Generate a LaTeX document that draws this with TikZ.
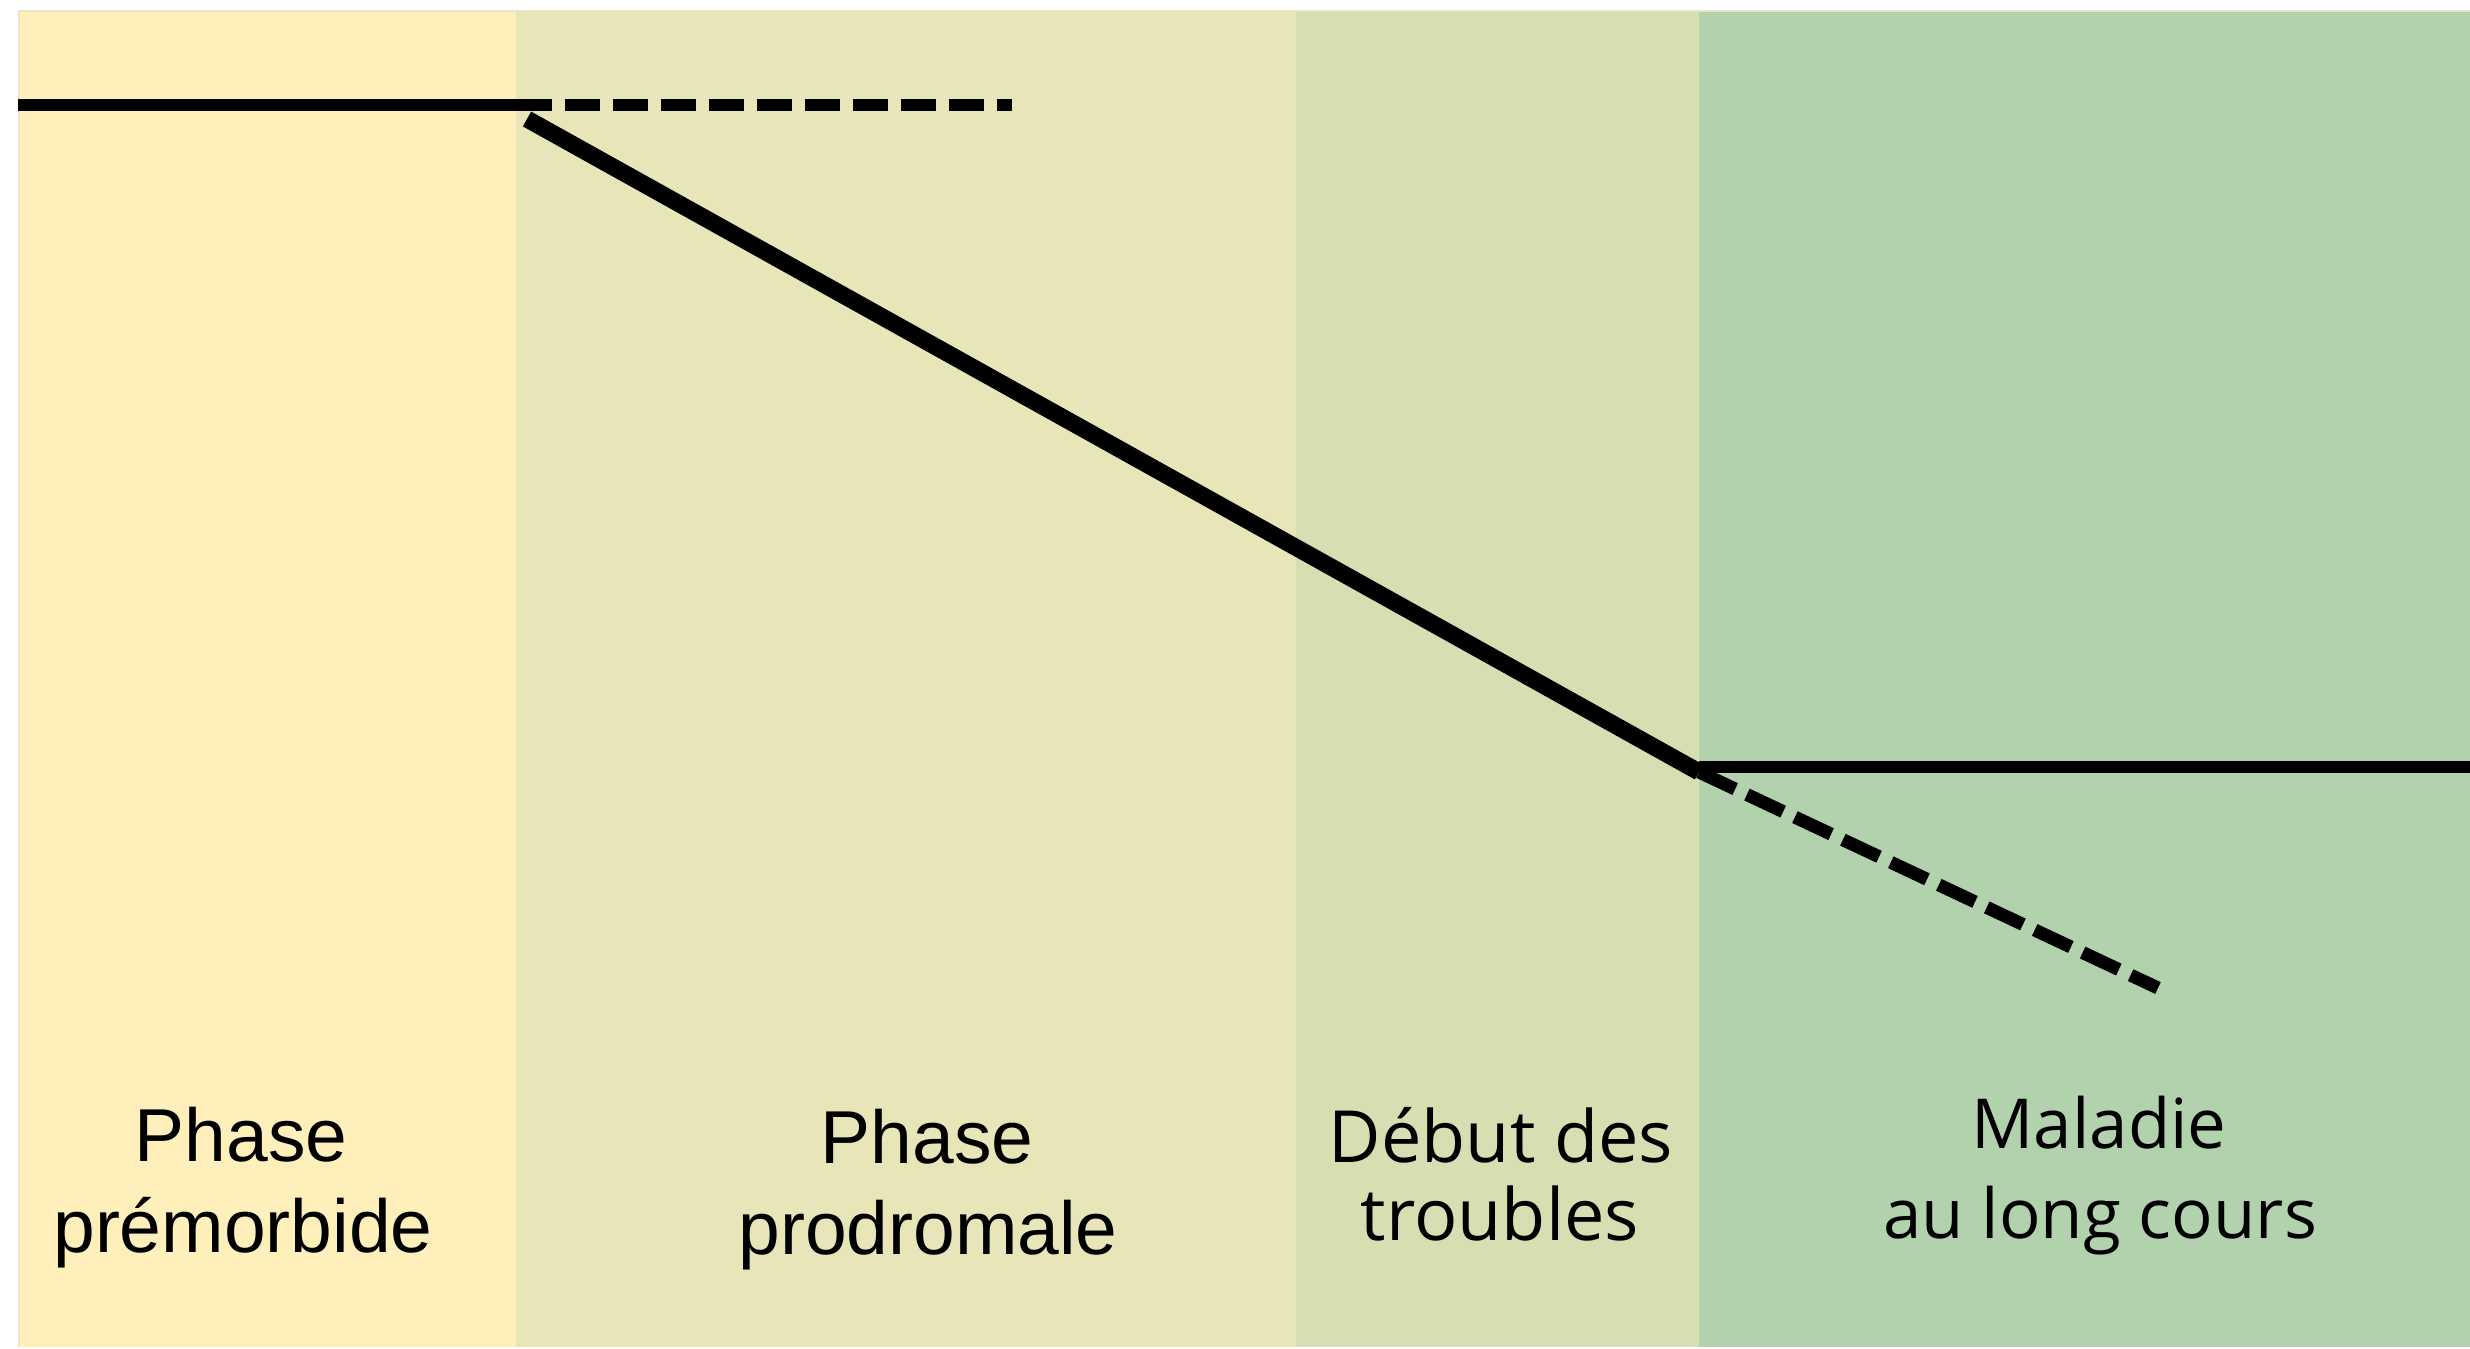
\documentclass[tikz,border=0pt]{standalone}
\usepackage{fontspec}
\setmainfont{Liberation Sans}
\newfontfamily\osans{Open Sans}
\definecolor{cpre}{RGB}{254,239,187}
\definecolor{cpro}{RGB}{232,230,184}
\definecolor{cdeb}{RGB}{214,223,178}
\definecolor{cmal}{RGB}{178,210,174}
\definecolor{cedge}{RGB}{236,228,200}
\begin{document}
\begin{tikzpicture}[x=0.5pt,y=-0.5pt,
  trajline/.style={line width=6pt, black, line cap=butt},
  trajslope/.style={line width=8.5pt, black, line cap=butt},
  trajdash/.style={trajline, dash pattern=on 17.5pt off 6.5pt},
  trajdashslope/.style={line width=6.5pt, black, line cap=butt, dash pattern=on 20pt off 6.5pt},
  arialtxt/.style={font=\fontsize{37.5}{45}\selectfont, inner sep=0pt, anchor=base},
  opentxt/.style={font=\osans\fontsize{36}{43}\selectfont, inner sep=0pt, anchor=base},
  opensmall/.style={font=\osans\fontsize{34.5}{43}\selectfont, inner sep=0pt, anchor=base}]
\useasboundingbox (0,0) rectangle (2470,1349);
% panels
\fill[cpre] (18,10) rectangle (516,1347);
\fill[cpro] (516,10) rectangle (1296,1347);
\fill[cdeb] (1296,10) rectangle (1699,1347);
\fill[cmal] (1699,10) rectangle (2470,1347);
\draw[cedge, line width=1pt] (18.5,1347) -- (18.5,10.5) -- (2470,10.5);
% coordinates
\coordinate (a0) at (18,105);
\coordinate (a1) at (517,105);
\coordinate (a2) at (1012,105);
\coordinate (d0) at (527,119);
\coordinate (j) at (1699,772);
\coordinate (h0) at (1699,767);
\coordinate (r1) at (2470,767);
\coordinate (e1) at (2158,988);
% lines
\draw[trajline] (a0) -- (a1);
\draw[trajdash] (a1) -- (a2);
\draw[trajslope] (d0) -- (j);
\draw[trajline] (h0) -- (r1);
\draw[trajdashslope] (j) -- (e1);
% labels
\node[arialtxt] (l1a) at (241,1161) {Phase};
\node[arialtxt] (l1b) at (243,1252) {prémorbide};
\node[arialtxt] (l2a) at (927,1163) {Phase};
\node[arialtxt] (l2b) at (928,1254) {prodromale};
\node[opentxt] (l3a) at (1501,1162) {Début des};
\node[opentxt] (l3b) at (1500,1240) {troubles};
\node[opensmall] (l4a) at (2099,1148) {Maladie};
\node[opensmall] (l4b) at (2100,1238) {au long cours};
\end{tikzpicture}
\end{document}
